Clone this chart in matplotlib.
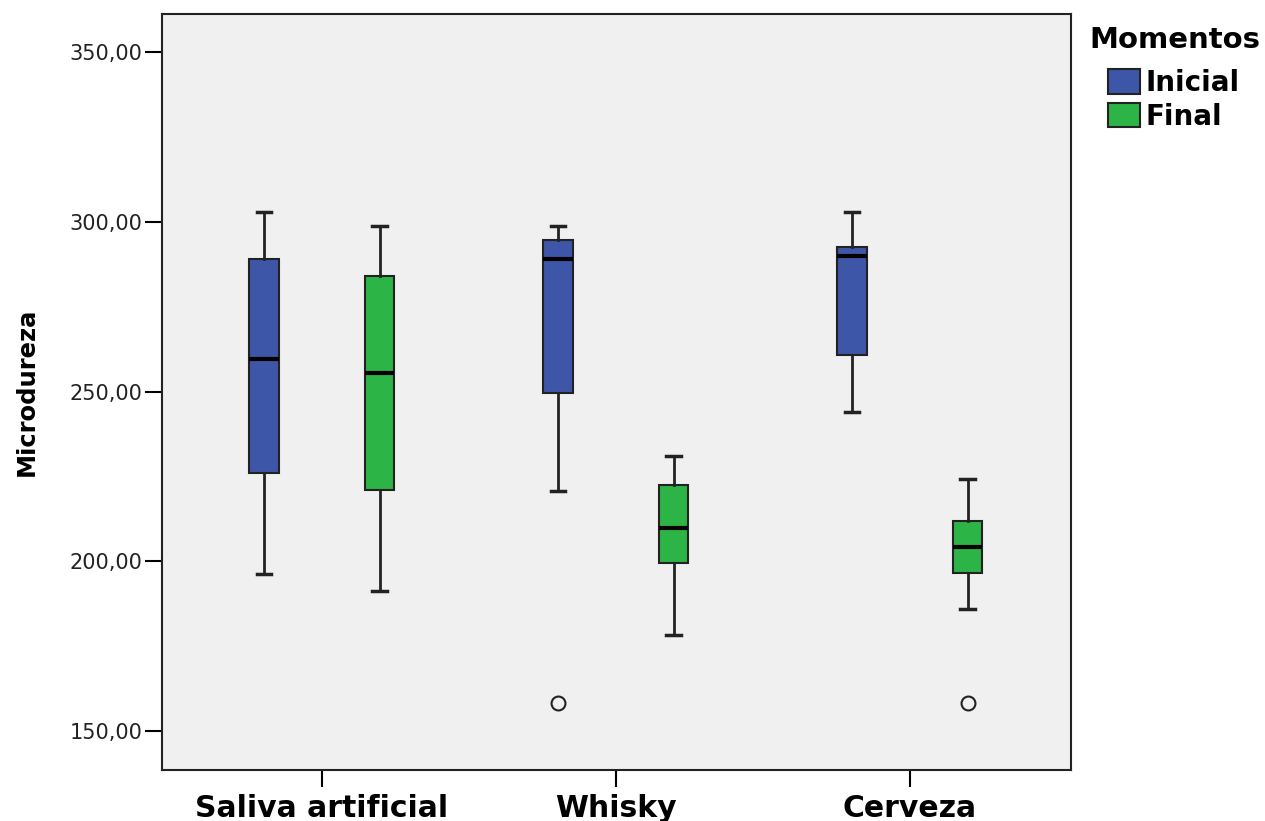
import numpy as np
import matplotlib.pyplot as plt
from matplotlib.patches import Patch

plt.rcParams['font.family'] = ['DejaVu Sans']

# Categories and groups
categories = ["Saliva artificial", "Whisky", "Cerveza"]
moments = ["Inicial", "Final"]

# Box statistics: (low whisker, Q1, median, Q3, high whisker)
inicial_low = [196.2, 220.6, 244.1]
inicial_q1 = [225.9, 249.7, 260.9]
inicial_med = [259.7, 289.1, 290.0]
inicial_q3 = [289.1, 294.7, 292.6]
inicial_high = [302.9, 298.8, 302.9]
inicial_out = [[], [158.2], []]

final_low = [191.2, 178.2, 185.9]
final_q1 = [220.9, 199.4, 196.5]
final_med = [255.6, 209.7, 204.1]
final_q3 = [284.1, 222.4, 211.8]
final_high = [298.8, 230.9, 224.1]
final_out = [[], [], [158.2]]

colors = {"Inicial": "#3d56a8", "Final": "#2db446"}


def make_stats(low, q1, med, q3, high, out):
    return [dict(whislo=lo, q1=a, med=m, q3=b, whishi=hi, fliers=f)
            for lo, a, m, b, hi, f in zip(low, q1, med, q3, high, out)]


stats = {
    "Inicial": make_stats(inicial_low, inicial_q1, inicial_med, inicial_q3, inicial_high, inicial_out),
    "Final": make_stats(final_low, final_q1, final_med, final_q3, final_high, final_out),
}

fig = plt.figure(figsize=(12.65, 8.21), dpi=100)
ax = fig.add_axes([0.128, 0.062, 0.7186, 0.921])
ax.set_facecolor("#f0f0f0")

x = np.arange(len(categories))
offsets = {"Inicial": -0.197, "Final": 0.197}

for m in moments:
    ax.bxp(stats[m], positions=x + offsets[m], widths=0.1, patch_artist=True,
           showfliers=True,
           boxprops=dict(facecolor=colors[m], edgecolor="#222222", linewidth=1.5),
           medianprops=dict(color="black", linewidth=3),
           whiskerprops=dict(color="#222222", linewidth=2),
           capprops=dict(color="#222222", linewidth=2.5),
           flierprops=dict(marker="o", markerfacecolor="none", markeredgecolor="#222222",
                           markersize=10, markeredgewidth=1.5))

ax.set_xlim(-0.544, 2.548)
ax.set_ylim(138.5, 361.2)
ax.set_xticks(x)
ax.set_xticklabels(categories, fontsize=21.5, fontweight="bold")
yt = [150, 200, 250, 300, 350]
ax.set_yticks(yt)
ax.set_yticklabels([f"{v:.2f}".replace(".", ",") for v in yt], fontsize=15, color="#222222")
ax.tick_params(axis="x", length=12, width=1.5, pad=5)
ax.tick_params(axis="y", length=12, width=1.5, pad=2)
for s in ax.spines.values():
    s.set_linewidth(1.5)
    s.set_color("#222222")

ax.set_ylabel("Microdureza", fontsize=17.5, fontweight="bold", labelpad=22)

fig.text(1089 / 1265, 1 - 40 / 821, "Momentos", fontsize=21, fontweight="bold",
         ha="left", va="center")
handles = [Patch(facecolor=colors[m], edgecolor="#222222", linewidth=1.5, label=m) for m in moments]
leg = fig.legend(handles=handles, loc="upper left",
                 bbox_to_anchor=(1108 / 1265, 1 - 69 / 821), frameon=False,
                 borderaxespad=0, borderpad=0,
                 prop=dict(size=20, weight="bold"), handlelength=1.15, handleheight=1.0,
                 handletextpad=0.2, labelspacing=0.2)

fig.savefig("out.png", dpi=100)
